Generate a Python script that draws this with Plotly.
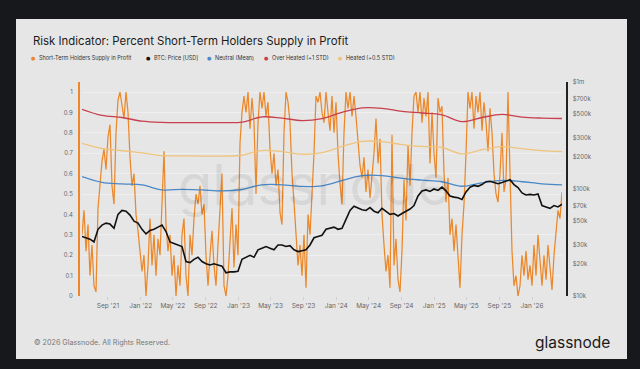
import plotly.graph_objects as go
import pandas as pd

# ---------------- data ----------------
START, END = "2021-05-27", "2026-04-23"

sth_profit = [
    0.30, 0.42, 0.22, 0.35, 0.10, 0.25, 0.05, 0.02, 0.43, 0.57,
    0.66, 0.72, 0.62, 0.78, 0.84, 0.54, 0.45, 0.80, 0.96, 1.00,
    0.92, 0.87, 1.00, 0.90, 0.68, 0.54, 0.60, 0.40, 0.32, 0.22,
    0.12, 0.20, 0.00, 0.15, 0.38, 0.15, 0.30, 0.10, 0.28, 0.20,
    0.50, 0.71, 0.35, 0.22, 0.30, 0.10, 0.20, 0.00, 0.15, 0.05,
    0.30, 0.38, 0.10, 0.00, 0.30, 0.20, 0.38, 0.50, 0.45, 0.54,
    0.40, 0.45, 0.20, 0.05, 0.20, 0.32, 0.15, 0.05, 0.25, 0.45,
    0.60, 0.05, 0.00, 0.10, 0.28, 0.43, 0.14, 0.35, 0.20, 0.75,
    0.90, 0.98, 0.90, 1.00, 0.82, 0.97, 0.85, 0.50, 0.85, 1.00,
    0.92, 1.00, 0.88, 0.95, 0.72, 0.60, 0.70, 0.54, 0.62, 0.41,
    0.35, 0.80, 1.00, 0.95, 0.85, 0.60, 0.46, 0.30, 0.15, 0.25,
    0.10, 0.30, 0.04, 0.40, 0.30, 0.50, 0.70, 0.98, 0.95, 1.00,
    0.90, 0.85, 1.00, 0.90, 0.81, 0.98, 0.80, 0.95, 0.70, 0.55,
    0.45, 0.80, 1.00, 0.92, 1.00, 0.88, 0.98, 0.88, 0.75, 0.64,
    0.58, 0.68, 0.51, 0.62, 0.48, 0.60, 0.70, 0.87, 0.65, 0.77,
    0.40, 0.25, 0.12, 0.20, 0.04, 0.79, 0.15, 0.28, 0.08, 0.02,
    0.22, 0.57, 0.37, 0.74, 0.54, 0.80, 0.98, 1.00, 0.90, 1.00,
    0.85, 0.97, 0.88, 1.00, 0.65, 0.90, 0.70, 0.58, 0.97, 0.90,
    0.93, 0.60, 0.46, 0.58, 0.30, 0.38, 0.22, 0.35, 0.20, 0.04,
    0.30, 0.45, 0.70, 1.00, 0.92, 1.00, 0.82, 0.98, 0.90, 1.00,
    0.81, 0.95, 0.85, 0.71, 0.92, 0.80, 0.60, 0.50, 0.46, 0.60,
    0.80, 0.51, 0.57, 1.00, 0.60, 0.22, 0.05, 0.10, 0.00, 0.05,
    0.20, 0.10, 0.22, 0.08, 0.15, 0.05, 0.25, 0.10, 0.30, 0.15,
    0.05, 0.20, 0.08, 0.25, 0.15, 0.03, 0.20, 0.30, 0.42, 0.38,
    0.51,
]

btc_price_k = [
    36, 35, 34, 32, 42, 46, 48, 47, 43, 58,
    63, 62, 57, 50, 48, 42, 38, 41, 42, 44,
    46, 40, 32, 31, 30, 29, 21, 20.5, 22, 23,
    21, 20, 19.5, 20, 19.5, 19, 16.5, 16.8, 16.8, 17,
    22, 23, 24, 23, 27, 28, 29, 28, 27, 30,
    30, 29, 29.5, 27, 26, 26.5, 27, 30, 35, 36,
    37, 42, 43, 44, 42, 43, 52, 63, 69, 66,
    64, 63, 67, 62, 60, 66, 62, 58, 59, 56,
    59, 62, 65, 70, 86, 96, 98, 95, 100, 97,
    104, 96, 86, 84, 83, 80, 94, 104, 108, 106,
    110, 117, 118, 115, 112, 115, 118, 122, 110, 103,
    92, 88, 89, 88, 90, 70, 68, 66, 70, 68,
    72,
]

neutral_mean = [
    0.585, 0.557, 0.550, 0.545, 0.520, 0.523, 0.520, 0.515, 0.522, 0.545,
    0.545, 0.537, 0.540, 0.566, 0.590, 0.590, 0.577, 0.568, 0.560, 0.538,
    0.555, 0.567, 0.560, 0.550, 0.545,
]
over_heated = [
    0.915, 0.885, 0.875, 0.857, 0.851, 0.850, 0.850, 0.850, 0.852, 0.878,
    0.872, 0.860, 0.870, 0.900, 0.922, 0.920, 0.905, 0.897, 0.888, 0.855,
    0.875, 0.890, 0.877, 0.872, 0.870,
]
heated = [
    0.748, 0.723, 0.712, 0.702, 0.688, 0.687, 0.686, 0.686, 0.690, 0.713,
    0.708, 0.695, 0.703, 0.733, 0.758, 0.757, 0.742, 0.733, 0.728, 0.697,
    0.717, 0.732, 0.722, 0.713, 0.708,
]

left_ticks = [0, 0.1, 0.2, 0.3, 0.4, 0.5, 0.6, 0.7, 0.8, 0.9, 1]
left_labels = ["0", "0.1", "0.2", "0.3", "0.4", "0.5", "0.6", "0.7", "0.8", "0.9", "1"]
right_ticks = [1e4, 2e4, 3e4, 5e4, 7e4, 1e5, 2e5, 3e5, 5e5, 7e5, 1e6]
right_labels = ["$10k", "$20k", "$30k", "$50k", "$70k", "$100k", "$200k", "$300k", "$500k", "$700k", "$1m"]

series_names = ["Short-Term Holders Supply in Profit", "BTC: Price [USD]", "Neutral (Mean)",
                "Over Heated (+1 STD)", "Heated (+0.5 STD)"]
series_colors = ["#ec882a", "#111111", "#4a88c6", "#c8404e", "#efc47c"]

TITLE = "Risk Indicator: Percent Short-Term Holders Supply in Profit"
FOOTER = "\u00a9 2026 Glassnode. All Rights Reserved."

# ---------------- geometry helpers ----------------
W, H = 640, 369
L, R, T, B = 78, 74, 82, 73
PW, PH = W - L - R, H - T - B
BG = "#17181b"


def px(x):
    return (x - L) / PW


def py(y):
    return (H - B - y) / PH


FONT = "Inter, Roboto, sans-serif"

d_sth = pd.date_range(START, END, periods=len(sth_profit))
d_btc = pd.date_range(START, END, periods=len(btc_price_k))
d_band = pd.date_range(START, END, periods=len(neutral_mean))

fig = go.Figure()
fig.add_trace(go.Scatter(x=d_sth, y=sth_profit, mode="lines", name=series_names[0],
                         line=dict(color=series_colors[0], width=1.25), yaxis="y"))
fig.add_trace(go.Scatter(x=d_band, y=neutral_mean, mode="lines", name=series_names[2],
                         line=dict(color=series_colors[2], width=1.3, shape="spline"), yaxis="y"))
fig.add_trace(go.Scatter(x=d_band, y=over_heated, mode="lines", name=series_names[3],
                         line=dict(color=series_colors[3], width=1.3, shape="spline"), yaxis="y"))
fig.add_trace(go.Scatter(x=d_band, y=heated, mode="lines", name=series_names[4],
                         line=dict(color=series_colors[4], width=1.3, shape="spline"), yaxis="y"))
fig.add_trace(go.Scatter(x=d_btc, y=[v * 1000 for v in btc_price_k], mode="lines", name=series_names[1],
                         line=dict(color=series_colors[1], width=1.6), yaxis="y2"))

shapes = [
    dict(type="rect", xref="paper", yref="paper", x0=px(16), x1=px(627), y0=py(359), y1=py(19),
         fillcolor="#e6e6e6", line=dict(width=0), layer="below"),
]

annotations = [
    dict(text=TITLE, x=px(31), y=py(41), xref="paper", yref="paper", xanchor="left", yanchor="middle",
         showarrow=False, font=dict(family=FONT, size=11.4, color="#1b1b1b")),
    dict(text=FOOTER, x=px(32), y=py(342), xref="paper", yref="paper", xanchor="left", yanchor="middle",
         showarrow=False, font=dict(family=FONT, size=7.2, color="#777777")),
    dict(text="glassnode", x=px(612), y=py(342), xref="paper", yref="paper", xanchor="right", yanchor="middle",
         showarrow=False, font=dict(family=FONT, size=15.5, color="#1a1a1a")),
    dict(text="glassnode", x=px(314), y=py(185), xref="paper", yref="paper", xanchor="center", yanchor="middle",
         showarrow=False, font=dict(family=FONT, size=56, color="rgba(0,0,0,0.065)")),
]

legend_dot_x = [33, 148, 209, 266, 340]
for name, col, dx in zip(series_names, series_colors, legend_dot_x):
    annotations.append(dict(text="\u25cf", x=px(dx), y=py(57.5), xref="paper", yref="paper",
                            xanchor="center", yanchor="middle", showarrow=False,
                            font=dict(family="DejaVu Sans", size=5, color=col)))
    annotations.append(dict(text=name, x=px(dx + 4), y=py(57.5), xref="paper", yref="paper",
                            xanchor="left", yanchor="middle", showarrow=False,
                            font=dict(family=FONT, size=5.5, color="#333333")))

fig.update_layout(
    width=W, height=H,
    margin=dict(l=L, r=R, t=T, b=B, pad=0),
    paper_bgcolor=BG,
    plot_bgcolor="rgba(0,0,0,0)",
    showlegend=False,
    shapes=shapes,
    annotations=annotations,
    xaxis=dict(
        domain=[px(82), px(562)], range=[START, END], type="date",
        tick0="2021-09-01", dtick="M4", tickformat="%b '%y",
        ticks="outside", ticklen=3, tickcolor="#cfcfcf", tickwidth=1,
        showgrid=False, zeroline=False, showline=False,
        tickfont=dict(family=FONT, size=6.5, color="#666666"),
    ),
    yaxis=dict(
        anchor="free", position=0, range=[0, PH / 204],
        tickvals=left_ticks, ticktext=left_labels,
        showline=True, linecolor=series_colors[0], linewidth=1.5,
        showgrid=True, gridcolor="#efefef", gridwidth=1, zeroline=False,
        ticks="", ticklabelstandoff=4,
        tickfont=dict(family=FONT, size=6, color="#666666"),
    ),
    yaxis2=dict(
        overlaying="y", side="right", anchor="free", position=1,
        type="log", range=[4, 6],
        tickvals=right_ticks, ticktext=right_labels,
        showline=True, linecolor="#222222", linewidth=1.5,
        showgrid=False, zeroline=False, ticks="", ticklabelstandoff=4,
        tickfont=dict(family=FONT, size=6, color="#666666"),
    ),
)

fig.write_html(
    "out.html",
    config={"displayModeBar": False, "staticPlot": True},
    post_script=(
        "document.body.style.margin='0';"
        "document.body.style.padding='0';"
        f"document.body.style.background='{BG}';"
        "document.documentElement.style.background='" + BG + "';"
    ),
)
